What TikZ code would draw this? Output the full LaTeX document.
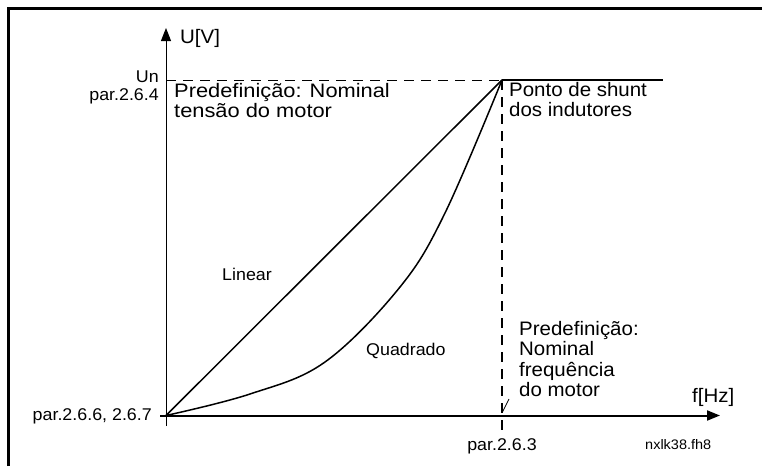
\documentclass[tikz,border=0pt]{standalone}
\usepackage{fontspec}
\setmainfont[FakeStretch=1.05]{Liberation Sans}
\newfontfamily\widefont[FakeStretch=1.12]{Liberation Sans}
\usetikzlibrary{arrows.meta}
\tikzset{
  bigtxt/.style={inner sep=0pt, font=\fontsize{19.5}{20.5}\selectfont, align=left},
  lbltxt/.style={inner sep=0pt, font=\fontsize{17}{18}\selectfont},
  smalltxt/.style={inner sep=0pt, font=\fontsize{13.8}{15}\selectfont},
  axisline/.style={-{Triangle[length=13pt,width=10pt]}},
  guide/.style={dash pattern=on 10pt off 7pt},
  curve/.style={line width=1.5pt, line join=round}
}
\begin{document}
\begin{tikzpicture}[x=1pt,y=-1pt]
\useasboundingbox (0,0) rectangle (762,466);
% frame
\draw[line width=2.2pt] (8.5,466) -- (8.5,8.5) -- (762,8.5);
% coordinates
\coordinate (O) at (166,415.5);
\coordinate (P) at (502,80);
\coordinate (Yb) at (166,426);
\coordinate (Yt) at (166,28);
\coordinate (Xl) at (160,415.5);
\coordinate (Xr) at (720,415.5);
\coordinate (Un) at (166,80);
\coordinate (Top) at (663,80);
\coordinate (Vb) at (502,430);
\coordinate (S1) at (502.5,412);
\coordinate (S2) at (509,399);
% axes
\draw[axisline, line width=1pt] (Yb) -- (Yt);
\draw[axisline, line width=2pt] (Xl) -- (Xr);
% guides
\draw[guide, line width=1pt] (Un) -- (P);
\draw[guide, line width=2pt] (P) -- (Vb);
\draw[line width=2.2pt] (P) -- (Top);
% curves
\draw[curve] (O) -- (P);
\draw[curve] plot[smooth, tension=0.6] coordinates {(166,415.5) (250,394) (325,362) (400,287) (445,213) (502,80)};
\draw[line width=0.8pt] (S1) -- (S2);
% texts
\node[bigtxt, anchor=base west] (uv) at (180,43) {U[V]};
\node[lbltxt, anchor=base east] (un) at (159,82) {Un};
\node[lbltxt, anchor=base east] (p264) at (159,100) {par.2.6.4};
\node[bigtxt, anchor=base west, font=\widefont\fontsize{19.5}{20}\selectfont] (pre1) at (174,117) {Predefinição: Nominal\\tensão do motor};
\node[bigtxt, anchor=base west, font=\fontsize{19.5}{19.5}\selectfont] (ponto) at (509,116) {Ponto de shunt\\dos indutores};
\node[lbltxt, anchor=base west] (lin) at (222,280) {Linear};
\node[lbltxt, anchor=base west] (quad) at (366,355) {Quadrado};
\node[bigtxt, anchor=base west] (pre2) at (519,396.5) {Predefinição:\\Nominal\\frequência\\do motor};
\node[bigtxt, anchor=base west] (fhz) at (692,402) {f[Hz]};
\node[lbltxt, anchor=base east] (p266) at (152,420) {par.2.6.6, 2.6.7};
\node[lbltxt, anchor=base] (p263) at (502,450) {par.2.6.3};
\node[smalltxt, anchor=base west] (nx) at (645,449) {nxlk38.fh8};
\end{tikzpicture}
\end{document}
